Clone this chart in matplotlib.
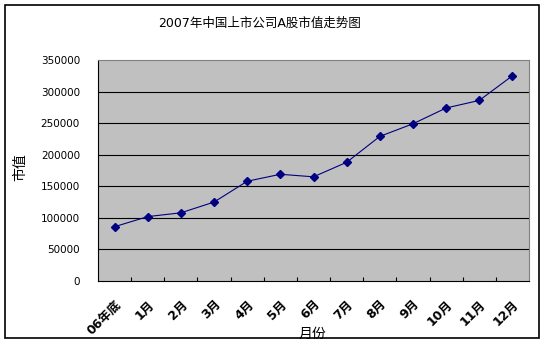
import matplotlib.pyplot as plt
from matplotlib.patches import Rectangle

plt.rcParams['font.family'] = ['DejaVu Sans', 'Noto Sans CJK SC']

# 各月末A股总市值
months = ['06年底', '1月', '2月', '3月', '4月', '5月', '6月',
          '7月', '8月', '9月', '10月', '11月', '12月']
market_value = [86000, 102000, 108000, 125000, 158000, 169000, 165000,
                188000, 229000, 249000, 274000, 286000, 325000]
y_ticks = [0, 50000, 100000, 150000, 200000, 250000, 300000, 350000]

fig = plt.figure(figsize=(5.46, 3.44), dpi=100)
fig.patch.set_facecolor('white')

# 图表外框
fig.patches.append(Rectangle((5 / 546, 1 - 338 / 344), 534 / 546, 333 / 344,
                             transform=fig.transFigure, fill=False,
                             edgecolor='black', linewidth=1.2))

ax = fig.add_axes([98 / 546, 1 - 281 / 344, 431 / 546, 221 / 344])
ax.set_facecolor('#c0c0c0')

x = list(range(len(months)))
ax.plot(x, market_value, color='#000080', linewidth=0.8,
        marker='D', markersize=4.5, zorder=3)

ax.set_xlim(-0.5, len(months) - 0.5)
ax.set_ylim(0, 350000)
ax.set_yticks(y_ticks)
ax.set_yticklabels([str(v) for v in y_ticks], fontsize=7.5)
ax.tick_params(axis='y', length=0, pad=13)
for v in y_ticks[1:-1]:
    ax.axhline(v, color='black', linewidth=0.8, zorder=1)

ax.set_xticks(x)
ax.set_xticklabels(months, rotation=45, ha='right', va='top',
                   rotation_mode='anchor', fontsize=9, fontweight='bold')
ax.tick_params(axis='x', length=0, pad=12)
ax.set_xticks([i + 0.5 for i in range(len(months) - 1)], minor=True)
ax.tick_params(axis='x', which='minor', direction='in', length=3,
               width=0.8, color='black')

for side in ['left', 'bottom']:
    ax.spines[side].set_color('black')
    ax.spines[side].set_linewidth(0.8)
for side in ['top', 'right']:
    ax.spines[side].set_color('#808080')
    ax.spines[side].set_linewidth(0.8)

ax.set_xlabel('月份', fontsize=10)
ax.xaxis.set_label_coords(0.4965, -0.208)
ax.set_ylabel('市值', fontsize=10)
ax.yaxis.set_label_coords(-0.165, 0.516)

fig.text(259.5 / 546, 1 - 23 / 344, '2007年中国上市公司A股市值走势图',
         ha='center', va='center', fontsize=9)

fig.savefig('out.png', dpi=100)
